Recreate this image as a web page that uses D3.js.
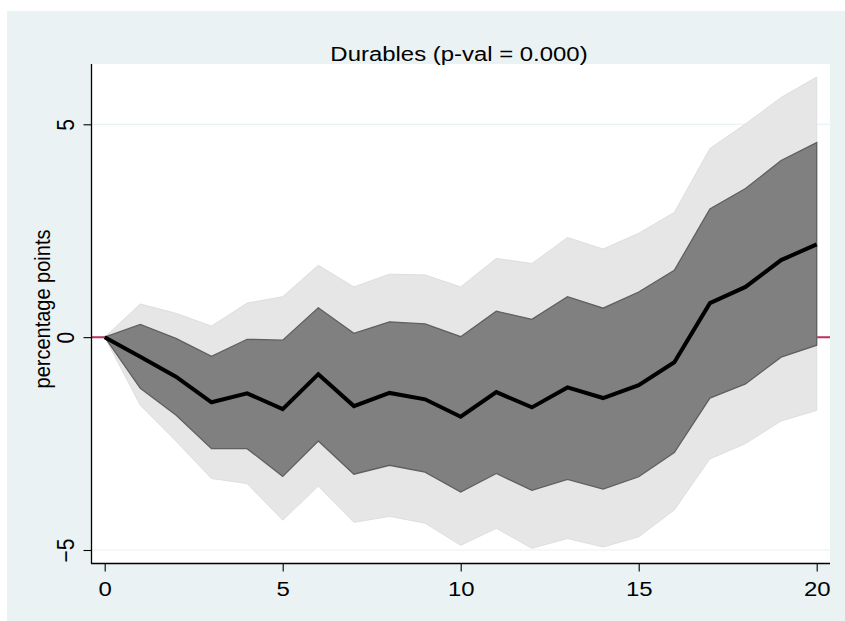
<!DOCTYPE html>
<html>
<head>
<meta charset="utf-8">
<script src="https://cdn.jsdelivr.net/npm/d3@7"></script>
<style>
  html, body { margin: 0; padding: 0; background: #ffffff; }
  svg { display: block; }
  text { font-family: "Liberation Sans", Arial, Helvetica, sans-serif; fill: #000; }
</style>
</head>
<body>
<svg id="chart" width="845" height="621"></svg>
<script>
// ---- data ----
const horizon = [0,1,2,3,4,5,6,7,8,9,10,11,12,13,14,15,16,17,18,19,20];
const pointEstimate = [0,-0.46,-0.93,-1.53,-1.32,-1.69,-0.87,-1.62,-1.31,-1.46,-1.87,-1.29,-1.65,-1.18,-1.43,-1.13,-0.59,0.80,1.18,1.81,2.18];
const innerUpper = [0,0.30,-0.03,-0.45,-0.05,-0.07,0.69,0.09,0.36,0.31,0.01,0.61,0.42,0.95,0.68,1.06,1.57,3.01,3.49,4.15,4.57];
const innerLower = [0,-1.20,-1.83,-2.62,-2.62,-3.27,-2.44,-3.22,-3.01,-3.17,-3.64,-3.20,-3.60,-3.34,-3.57,-3.28,-2.71,-1.43,-1.10,-0.47,-0.19];
const outerUpper = [0,0.78,0.56,0.26,0.80,0.95,1.69,1.18,1.48,1.46,1.18,1.85,1.73,2.34,2.07,2.44,2.93,4.43,5.01,5.63,6.11];
const outerLower = [0,-1.60,-2.44,-3.32,-3.44,-4.30,-3.50,-4.35,-4.21,-4.37,-4.89,-4.49,-4.96,-4.73,-4.93,-4.69,-4.06,-2.86,-2.50,-1.97,-1.72];
const xTicks = [0,5,10,15,20];
const yTicks = [-5,0,5];
const titleText = "Durables (p-val = 0.000)";
const yTitle = "percentage points";

// ---- layout ----
const svg = d3.select("#chart");
const plot = {left: 91, right: 830, top: 64, bottom: 563};
const sx = 1.14; // horizontal stretch of the original rendering

const x = d3.scaleLinear().domain([0, 20]).range([104.7, 816.7]);
const y = d3.scaleLinear().domain([-5, 5]).range([550, 124.3]);

const rows = horizon.map((h, i) => ({
  h, pe: pointEstimate[i], iu: innerUpper[i], il: innerLower[i], ou: outerUpper[i], ol: outerLower[i]
}));

// background
svg.append("rect").attr("x", 7).attr("y", 11).attr("width", 845 - 7).attr("height", 621 - 11)
  .attr("fill", "#eaf2f3");
// plot region
svg.append("rect").attr("x", plot.left).attr("y", plot.top)
  .attr("width", plot.right - plot.left).attr("height", plot.bottom - plot.top)
  .attr("fill", "#ffffff");

// gridlines
svg.append("g").selectAll("line").data(yTicks).join("line")
  .attr("x1", plot.left).attr("x2", plot.right)
  .attr("y1", d => y(d)).attr("y2", d => y(d))
  .attr("stroke", "#eaf2f3").attr("stroke-width", 1.2);

// reference line at 0
svg.append("line").attr("x1", plot.left + 1).attr("x2", plot.right)
  .attr("y1", y(0)).attr("y2", y(0))
  .attr("stroke", "#c0305a").attr("stroke-width", 2);

// bands
const outerArea = d3.area().x(d => x(d.h)).y0(d => y(d.ol)).y1(d => y(d.ou));
const innerArea = d3.area().x(d => x(d.h)).y0(d => y(d.il)).y1(d => y(d.iu));
svg.append("path").datum(rows).attr("d", outerArea)
  .attr("fill", "#e6e6e6").attr("stroke", "#dedede").attr("stroke-width", 1);
svg.append("path").datum(rows).attr("d", innerArea)
  .attr("fill", "#808080").attr("stroke", "#5f5f5f").attr("stroke-width", 1.3);

// point estimate
const line = d3.line().x(d => x(d.h)).y(d => y(d.pe));
svg.append("path").datum(rows).attr("d", line)
  .attr("fill", "none").attr("stroke", "#000").attr("stroke-width", 4)
  .attr("stroke-linejoin", "miter").attr("stroke-miterlimit", 3);

// axes
const yAxis = svg.append("g").attr("transform", `translate(${plot.left + 0.5},0)`)
  .call(d3.axisLeft(y).tickValues(yTicks).tickSize(8).tickSizeOuter(0).tickFormat(d3.format("d")));
yAxis.select(".domain").attr("d", `M0,${plot.top}V${plot.bottom + 0.5}`).attr("stroke", "#000").attr("stroke-width", 1.3);
yAxis.selectAll(".tick line").attr("stroke", "#000").attr("stroke-width", 1.1);
yAxis.selectAll(".tick text")
  .attr("x", null).attr("dy", null)
  .attr("font-size", 21).attr("text-anchor", "middle")
  .attr("transform", `translate(${74 - plot.left - 0.5},0) scale(${sx},1) rotate(-90)`)
  .style("font-family", "'Liberation Sans', Arial, sans-serif");

const xAxis = svg.append("g").attr("transform", `translate(0,${plot.bottom + 0.5})`)
  .call(d3.axisBottom(x).tickValues(xTicks).tickSize(8).tickSizeOuter(0).tickFormat(d3.format("d")));
xAxis.select(".domain").attr("d", `M${plot.left},0H${plot.right}`).attr("stroke", "#000").attr("stroke-width", 1.3);
xAxis.selectAll(".tick line").attr("stroke", "#000").attr("stroke-width", 1.1);
xAxis.selectAll(".tick text")
  .attr("y", null).attr("dy", null)
  .attr("font-size", 21).attr("text-anchor", "middle")
  .attr("transform", `translate(0,${596 - plot.bottom - 0.5}) scale(${sx},1)`)
  .style("font-family", "'Liberation Sans', Arial, sans-serif");

// y title
svg.append("text").text(yTitle)
  .attr("font-size", 20).attr("text-anchor", "middle")
  .attr("transform", `translate(49.5,309) scale(${sx},1) rotate(-90)`);

// title
svg.append("text").text(titleText)
  .attr("font-size", 21).attr("text-anchor", "middle")
  .attr("transform", `translate(459,61) scale(${sx},1)`);
</script>
</body>
</html>
